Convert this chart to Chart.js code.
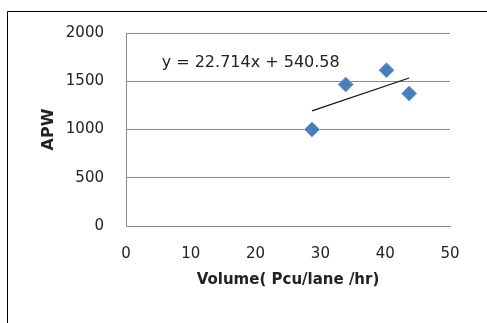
<!DOCTYPE html>
<html><head><meta charset="utf-8">
<script src="https://cdn.jsdelivr.net/npm/chart.js@4/dist/chart.umd.min.js"></script>
<style>html,body{margin:0;padding:0;background:#fff;}#wrap{width:487px;height:323px;position:relative;}</style>
</head><body><div id="wrap"><canvas id="c" width="487" height="323"></canvas></div>
<script>
const volume = [28.7, 33.9, 40.2, 43.7];
const apw = [1000, 1466, 1614, 1373];
const slope = 22.714;
const intercept = 540.58;
const equationLabel = 'y = 22.714x + 540.58';
const xTicks = [0, 10, 20, 30, 40, 50];
const yTicks = [0, 500, 1000, 1500, 2000];

const xMin = Math.min(...volume), xMax = Math.max(...volume);
const trend = [{x: xMin, y: slope * xMin + intercept}, {x: xMax, y: slope * xMax + intercept}];

const deco = {
  id: 'deco',
  afterDraw(chart) {
    const ctx = chart.ctx;
    ctx.save();
    ctx.strokeStyle = '#000';
    ctx.lineWidth = 1;
    ctx.beginPath();
    ctx.moveTo(7.5, 323); ctx.lineTo(7.5, 11.5); ctx.lineTo(487, 11.5);
    ctx.stroke();
    const xs = chart.scales.x, ys = chart.scales.y;
    ctx.fillStyle = '#222';
    ctx.font = '16px "DejaVu Sans"';
    ctx.textBaseline = 'middle';
    ctx.textAlign = 'left';
    ctx.fillText(equationLabel, xs.getPixelForValue(5.5), ys.getPixelForValue(1690));
    ctx.restore();
  }
};

new Chart(document.getElementById('c'), {
  type: 'scatter',
  data: {
    datasets: [
      {
        label: 'APW',
        data: volume.map((v, i) => ({x: v, y: apw[i]})),
        pointStyle: 'rectRot',
        pointRadius: 7.5,
        backgroundColor: '#4a7ebb',
        borderColor: '#7aa2d2',
        borderWidth: 1,
        order: 1
      },
      {
        type: 'line',
        label: 'trend',
        data: trend,
        borderColor: '#111',
        borderWidth: 1.2,
        pointRadius: 0,
        fill: false,
        order: 2
      }
    ]
  },
  options: {
    responsive: false,
    animation: false,
    layout: {padding: {top: 33, right: 37, left: 0, bottom: 0}},
    plugins: {legend: {display: false}, tooltip: {enabled: false}},
    scales: {
      x: {
        type: 'linear', min: 0, max: 50,
        afterBuildTicks(s) { s.ticks = xTicks.map(v => ({value: v})); },
        afterFit(s) { s.height = 97; },
        grid: {display: false, drawTicks: false},
        border: {display: true, color: '#8c8c8c', width: 1},
        ticks: {padding: 19, color: '#222', font: {family: 'DejaVu Sans', size: 15}, maxRotation: 0,
          callback: v => String(v)},
        title: {display: true, text: 'Volume( Pcu/lane /hr)', color: '#222',
          font: {family: 'DejaVu Sans', size: 15, weight: 'bold'}, padding: {top: 0, bottom: 34}}
      },
      y: {
        type: 'linear', min: 0, max: 2000,
        afterBuildTicks(s) { s.ticks = yTicks.map(v => ({value: v})); },
        afterFit(s) { s.width = 126; },
        grid: {color: '#8c8c8c', lineWidth: 1, drawTicks: false},
        border: {display: true, color: '#8c8c8c', width: 1},
        ticks: {padding: 22, color: '#222', font: {family: 'DejaVu Sans', size: 15},
          callback: v => String(v)},
        title: {display: true, text: 'APW', color: '#222',
          font: {family: 'DejaVu Sans', size: 16, weight: 'bold'}, padding: {top: 39, bottom: 0}}
      }
    }
  },
  plugins: [deco]
});
</script></body></html>
